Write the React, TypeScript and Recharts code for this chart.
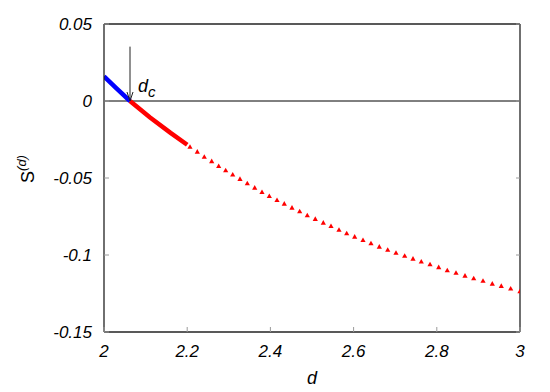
import React from "react";
import {
  ComposedChart,
  Line,
  Scatter,
  XAxis,
  YAxis,
  ReferenceLine,
} from "recharts";

// ---- data ----
const dCritical = 2.0625;

const xTicks = [2, 2.2, 2.4, 2.6, 2.8, 3];
const xTickLabels = ["2", "2.2", "2.4", "2.6", "2.8", "3"];
const yTicks = [0.05, 0, -0.05, -0.1, -0.15];
const yTickLabels = ["0.05", "0", "-0.05", "-0.1", "-0.15"];

const blueLine = [
  { d: 2.0, S: 0.016 },
  { d: 2.03, S: 0.0082 },
  { d: 2.0625, S: 0 },
];

const redLine = [
  { d: 2.0625, S: 0 },
  { d: 2.11, S: -0.0106 },
  { d: 2.16, S: -0.0207 },
  { d: 2.2, S: -0.0284 },
];

const triD = [
  2.2067, 2.2243, 2.2411, 2.2589, 2.2757, 2.2925, 2.3094, 2.3269, 2.3445, 2.3623,
  2.3798, 2.3974, 2.4159, 2.4334, 2.4519, 2.4704, 2.4887, 2.5079, 2.5272, 2.5457,
  2.5649, 2.5834, 2.6026, 2.6226, 2.6418, 2.6618, 2.682, 2.7019, 2.7228, 2.7428,
  2.7627, 2.7837, 2.8046, 2.8252, 2.8462, 2.8678, 2.8887, 2.9111, 2.9334, 2.955,
  2.9776, 3.0,
];
const triS = [
  -0.0297, -0.0329, -0.0362, -0.0391, -0.0422, -0.045, -0.0478, -0.0506, -0.0534, -0.0563,
  -0.0591, -0.0617, -0.0643, -0.0667, -0.0693, -0.0716, -0.0742, -0.0766, -0.079, -0.0812,
  -0.0836, -0.0859, -0.0881, -0.0903, -0.0924, -0.0946, -0.0966, -0.0986, -0.1005, -0.1024,
  -0.1043, -0.106, -0.1079, -0.1099, -0.1116, -0.1134, -0.1151, -0.1168, -0.1186, -0.1201,
  -0.1218, -0.1235,
];
const triangles = triD.map((d, i) => ({ d, S: triS[i] }));

const arrowData = [
  { d: dCritical, S: 0.0353 },
  { d: dCritical, S: 0 },
];

// ---- styles ----
const FONT = "'Liberation Sans', Arial, Helvetica, sans-serif";
const FRAME = "#222";
const TICK = "#9a9a9a";

const BottomTick = (props: any) => {
  const { x, y, payload, index } = props;
  const i = xTicks.indexOf(payload.value);
  return (
    <g key={`bt-${index}`}>
      <line x1={x} y1={y} x2={x} y2={y - 5} stroke={TICK} strokeWidth={1} />
      <text
        x={x}
        y={y + 25}
        textAnchor="middle"
        fontFamily={FONT}
        fontStyle="italic"
        fontSize={17}
        fill="#000"
      >
        {i >= 0 ? xTickLabels[i] : payload.value}
      </text>
    </g>
  );
};

const TopTick = (props: any) => {
  const { x, y, index } = props;
  return (
    <g key={`tt-${index}`}>
      <line x1={x} y1={y} x2={x} y2={y + 4} stroke={TICK} strokeWidth={1} />
    </g>
  );
};

const LeftTick = (props: any) => {
  const { x, y, payload, index } = props;
  const i = yTicks.indexOf(payload.value);
  return (
    <g key={`lt-${index}`}>
      <line x1={x} y1={y} x2={x + 5} y2={y} stroke={TICK} strokeWidth={1} />
      <text
        x={x - 12}
        y={y + 6}
        textAnchor="end"
        fontFamily={FONT}
        fontStyle="italic"
        fontSize={17}
        fill="#000"
      >
        {i >= 0 ? yTickLabels[i] : payload.value}
      </text>
    </g>
  );
};

const RightTick = (props: any) => {
  const { x, y, index } = props;
  return (
    <g key={`rt-${index}`}>
      <line x1={x} y1={y} x2={x - 4} y2={y} stroke={TICK} strokeWidth={1} />
    </g>
  );
};

const Triangle = (props: any) => {
  const { cx, cy } = props;
  if (cx == null || cy == null) return <g />;
  return (
    <path
      d={`M${cx - 2.6},${cy + 2} L${cx + 2.6},${cy + 2} L${cx},${cy - 2.6} Z`}
      fill="#ff0000"
      stroke="none"
    />
  );
};

const ArrowDot = (props: any) => {
  const { cx, cy, index } = props;
  if (index !== 1 || cx == null || cy == null) return <g key={`ad-${index}`} />;
  return (
    <g key={`ad-${index}`}>
      <path
        d={`M${cx - 3},${cy - 9} L${cx},${cy} L${cx + 3},${cy - 9}`}
        fill="none"
        stroke="#222"
        strokeWidth={1}
      />
      <text
        x={cx + 8}
        y={cy - 9}
        fontFamily={FONT}
        fontStyle="italic"
        fontSize={18}
        fill="#000"
      >
        d
        <tspan fontSize={15} dy={5}>
          c
        </tspan>
      </text>
    </g>
  );
};

const YLabel = (props: any) => {
  const vb = props.viewBox || { y: 24, height: 308 };
  const cx = 34;
  const cy = vb.y + vb.height / 2 - 9;
  return (
    <text
      x={cx}
      y={cy}
      textAnchor="middle"
      transform={`rotate(-90, ${cx}, ${cy})`}
      fontFamily={FONT}
      fontSize={18}
      fill="#000"
    >
      S
      <tspan fontSize={13} dy={-8} fontStyle="italic">
        (d)
      </tspan>
    </text>
  );
};

export default function App() {
  return (
    <div style={{ position: "absolute", left: 0, top: 0, background: "#fff" }}>
      <ComposedChart
        width={550}
        height={392}
        margin={{ top: 23, right: 29, bottom: 0, left: 0 }}
      >
        <XAxis
          xAxisId={0}
          dataKey="d"
          type="number"
          domain={[2, 3]}
          ticks={xTicks}
          interval={0}
          allowDataOverflow
          height={60}
          tickSize={0}
          tickMargin={0}
          axisLine={{ stroke: FRAME, strokeWidth: 1.3 }}
          tickLine={false}
          tick={<BottomTick />}
          label={{
            value: "d",
            position: "insideBottom",
            offset: 8,
            fontFamily: FONT,
            fontStyle: "italic",
            fontSize: 18,
            fill: "#000",
          }}
        />
        <XAxis
          xAxisId="top"
          orientation="top"
          type="number"
          domain={[2, 3]}
          ticks={xTicks}
          interval={0}
          allowDataOverflow
          height={1}
          tickSize={0}
          tickMargin={0}
          axisLine={{ stroke: FRAME, strokeWidth: 1.3 }}
          tickLine={false}
          tick={<TopTick />}
        />
        <YAxis
          yAxisId={0}
          type="number"
          domain={[-0.15, 0.05]}
          ticks={yTicks}
          interval={0}
          allowDataOverflow
          width={104}
          tickSize={0}
          tickMargin={0}
          axisLine={{ stroke: FRAME, strokeWidth: 1.3 }}
          tickLine={false}
          tick={<LeftTick />}
          label={<YLabel />}
        />
        <YAxis
          yAxisId="right"
          orientation="right"
          type="number"
          domain={[-0.15, 0.05]}
          ticks={yTicks}
          interval={0}
          allowDataOverflow
          width={1}
          tickSize={0}
          tickMargin={0}
          axisLine={{ stroke: FRAME, strokeWidth: 1.3 }}
          tickLine={false}
          tick={<RightTick />}
        />
        <ReferenceLine y={0} stroke="#000" strokeWidth={1} ifOverflow="hidden" />
        <Line
          data={arrowData}
          dataKey="S"
          stroke="#222"
          strokeWidth={1}
          dot={ArrowDot}
          activeDot={false}
          isAnimationActive={false}
        />
        <Line
          data={redLine}
          dataKey="S"
          stroke="#ff0000"
          strokeWidth={4.5}
          dot={false}
          activeDot={false}
          isAnimationActive={false}
        />
        <Line
          data={blueLine}
          dataKey="S"
          stroke="#0000ff"
          strokeWidth={4.5}
          dot={false}
          activeDot={false}
          isAnimationActive={false}
        />
        <Scatter
          data={triangles}
          dataKey="S"
          shape={Triangle}
          isAnimationActive={false}
        />
      </ComposedChart>
    </div>
  );
}
